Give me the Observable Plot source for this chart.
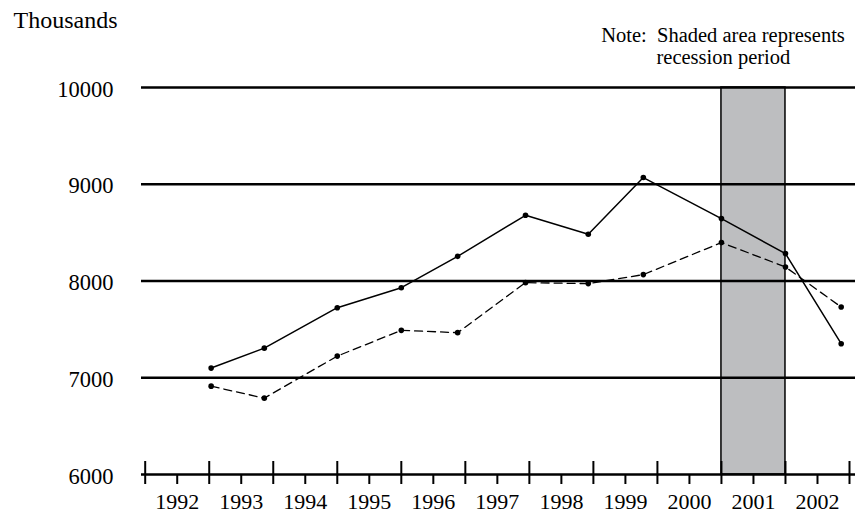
<!DOCTYPE html>
<html>
<head>
<meta charset="utf-8">
<script src="https://cdn.jsdelivr.net/npm/d3@7"></script>
<script src="https://cdn.jsdelivr.net/npm/@observablehq/plot@0.6"></script>
<style>
  body { margin: 0; background: #fff; }
  #chart svg { display: block; }
</style>
</head>
<body>
<div id="chart"></div>
<script>
// Observation positions (fractional years) shared by both series
const pointYears = [1993.03, 1993.86, 1995.0, 1996.0, 1996.88, 1997.94, 1998.92, 1999.78, 2001.0, 2002.0, 2002.87];
// Solid series (thousands)
const solidValues = [7100, 7306, 7724, 7931, 8255, 8679, 8483, 9069, 8645, 8283, 7352];
// Dashed series (thousands)
const dashedValues = [6913, 6789, 7224, 7490, 7466, 7983, 7973, 8066, 8397, 8145, 7731];

// Axis ticks and labels
const yTicks = [6000, 7000, 8000, 9000, 10000];
const yearLabels = [1992, 1993, 1994, 1995, 1996, 1997, 1998, 1999, 2000, 2001, 2002];
const yearBoundaries = [...yearLabels, 2003];

// Recession period
const recessionStart = 2001;
const recessionEnd = 2002;

// Texts
const unitLabel = "Thousands";
const noteLine1 = "Note:  Shaded area represents";
const noteLine2 = "recession period";

const solid = pointYears.map((x, i) => ({x, y: solidValues[i]}));
const dashed = pointYears.map((x, i) => ({x, y: dashedValues[i]}));
const recession = [{start: recessionStart, end: recessionEnd}];
const yearMids = yearLabels.map(y => y + 0.5);

const chart = Plot.plot({
  width: 855,
  height: 514,
  marginLeft: 141,
  marginRight: 0,
  marginTop: 87,
  marginBottom: 40,
  style: {fontFamily: "'Liberation Serif', 'Times New Roman', serif", fontSize: "22px", color: "black", background: "white"},
  x: {domain: [1992, 2003], range: [144.7, 849]},
  y: {domain: [yTicks[0], yTicks[yTicks.length - 1]]},
  marks: [
    Plot.rect(recession, {x1: "start", x2: "end", fill: "#bdbec0", stroke: "black", strokeWidth: 1.5}),
    Plot.ruleY(yTicks, {stroke: "black", strokeWidth: 2.7}),
    Plot.axisY({ticks: yTicks, tickSize: 0, tickPadding: 28, tickFormat: d => String(d), fontSize: 22.5, dy: 2, label: null}),
    Plot.axisX({ticks: yearBoundaries, tickSize: 23, dy: -13, tickFormat: () => "", strokeWidth: 2, label: null}),
    Plot.axisX({ticks: yearMids, tickSize: 10, tickPadding: 9, tickFormat: d => String(Math.floor(d)), strokeWidth: 2, fontSize: 22, label: null}),
    Plot.line(dashed, {x: "x", y: "y", stroke: "black", strokeWidth: 1.3, strokeDasharray: "8,5"}),
    Plot.dot(dashed, {x: "x", y: "y", r: 2.8, fill: "black"}),
    Plot.line(solid, {x: "x", y: "y", stroke: "black", strokeWidth: 1.5}),
    Plot.dot(solid, {x: "x", y: "y", r: 2.8, fill: "black"}),
    Plot.text([unitLabel], {frameAnchor: "top-left", dx: -128, dy: -67, textAnchor: "start", lineAnchor: "middle", fontSize: 24}),
    Plot.text([noteLine1], {frameAnchor: "top-left", dx: 459.7, dy: -60, textAnchor: "start", lineAnchor: "top", fontSize: 20.5}),
    Plot.text([noteLine2], {frameAnchor: "top-left", dx: 515, dy: -38, textAnchor: "start", lineAnchor: "top", fontSize: 20.5})
  ]
});
document.getElementById("chart").appendChild(chart);
</script>
</body>
</html>
